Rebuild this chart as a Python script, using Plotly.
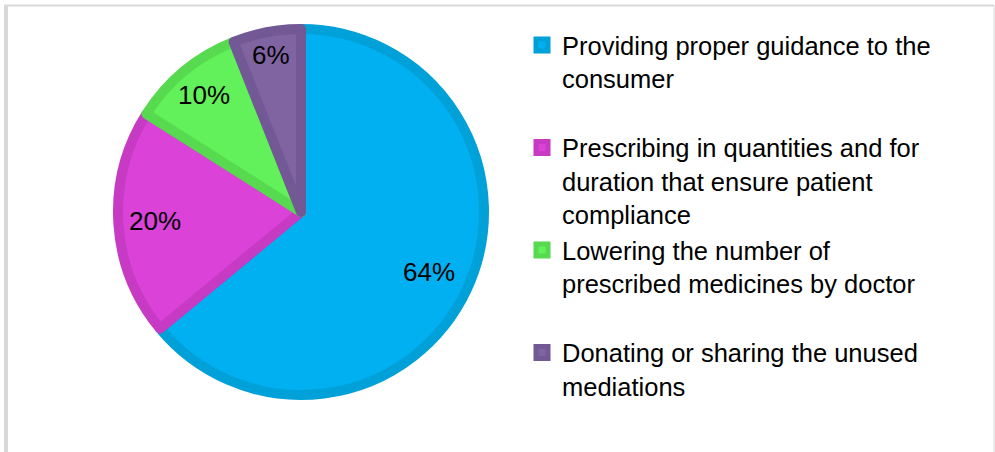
import math
import plotly.graph_objects as go

# Survey responses: ways to reduce unused medicines
labels = [
    "Providing proper guidance to the<br>consumer<br> ",
    "Prescribing in quantities and for<br>duration that ensure patient<br>compliance",
    "Lowering the number of<br>prescribed medicines by doctor<br> ",
    "Donating or sharing the unused<br>mediations",
]
shares = [64, 20, 10, 6]
fill_colors = ["#00B0F0", "#DA42D8", "#62F15A", "#8064A2"]
edge_colors = ["#00A0D8", "#C73AC4", "#57DA4F", "#725894"]

W, H = 995, 452
cx, cy, r = 301, 212, 183  # pie centre and radius in pixels
edge_w = 10
font = "Liberation Sans, Arial"

fig = go.Figure(
    go.Pie(
        labels=labels,
        values=shares,
        sort=False,
        direction="clockwise",
        rotation=0,
        marker=dict(colors=fill_colors, line=dict(color=edge_colors, width=edge_w)),
        textinfo="none",
        domain=dict(
            x=[(cx - r) / W, (cx + r) / W],
            y=[1 - (cy + r) / H, 1 - (cy - r) / H],
        ),
        hoverinfo="label+percent",
    )
)

# percentage labels on each slice's bisector; narrow slices push the label outwards
label_radius = [0.75, 0.78, 0.81, 0.85]
outer = r + edge_w / 2
total = sum(shares)
start = 0.0
for share, frac in zip(shares, label_radius):
    mid = (start + share / 2) / total * 2 * math.pi  # clockwise from 12 o'clock
    start += share
    px = cx + frac * outer * math.sin(mid)
    py = cy - frac * outer * math.cos(mid)
    fig.add_annotation(
        x=px / W, y=1 - py / H, xref="paper", yref="paper",
        text=f"{share}%", showarrow=False,
        xanchor="center", yanchor="middle",
        font=dict(family=font, size=26, color="black"),
    )

# light grey frame around the chart area
frame = "#D9D9D9"
fig.add_shape(type="line", xref="paper", yref="paper",
              x0=4 / W, x1=994 / W, y0=1 - 5.5 / H, y1=1 - 5.5 / H,
              line=dict(color=frame, width=2))
fig.add_shape(type="line", xref="paper", yref="paper",
              x0=6 / W, x1=6 / W, y0=0, y1=1 - 5 / H,
              line=dict(color=frame, width=4))
fig.add_shape(type="line", xref="paper", yref="paper",
              x0=994 / W, x1=994 / W, y0=0, y1=1 - 5 / H,
              line=dict(color=frame, width=1))

fig.update_layout(
    width=W,
    height=H,
    margin=dict(l=0, r=0, t=0, b=0),
    paper_bgcolor="white",
    plot_bgcolor="white",
    font=dict(family=font, color="black"),
    legend=dict(
        x=522 / W,
        y=1 - 22 / H,
        xanchor="left",
        yanchor="top",
        valign="top",
        font=dict(family=font, size=25.5, color="black"),
        tracegroupgap=0,
        itemclick=False,
    ),
)

fig.write_html("out.html")
